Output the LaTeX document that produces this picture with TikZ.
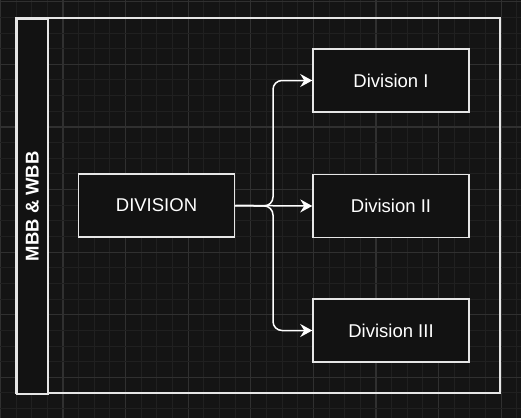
\documentclass[tikz,border=0pt]{standalone}
\usepackage{fontspec}
\setmainfont{Liberation Sans}
\usetikzlibrary{arrows.meta}
\definecolor{bgc}{HTML}{141414}
\definecolor{fillc}{HTML}{121212}
\definecolor{gridminor}{HTML}{202020}
\definecolor{gridmajor}{HTML}{303030}
\definecolor{strokec}{HTML}{E6E6E6}
\tikzset{
  divbox/.style={draw=strokec, line width=1.5pt, fill=fillc, minimum width=156pt, minimum height=63pt, inner sep=0pt, text=white, font=\fontsize{18.5}{22}\selectfont},
  conn/.style={draw=white, line width=1.5pt, -{Stealth[length=12pt,width=13pt,inset=4pt]}},
}
\begin{document}
\begin{tikzpicture}[x=1pt,y=-1pt]
\useasboundingbox (0,0) rectangle (521,418);
\fill[bgc] (0,0) rectangle (521,418);
% grid
\foreach \k in {0,...,33}{
  \pgfmathsetmacro{\gx}{0.4+\k*15.65}
  \pgfmathtruncatemacro{\m}{mod(\k,4)}
  \ifnum\m=0
    \draw[gridmajor, line width=1.2pt] (\gx,0) -- (\gx,418);
  \else
    \draw[gridminor, line width=1pt] (\gx,0) -- (\gx,418);
  \fi
}
\foreach \k in {0,...,26}{
  \pgfmathsetmacro{\gy}{1.7+\k*15.65}
  \pgfmathtruncatemacro{\m}{mod(\k,4)}
  \ifnum\m=0
    \draw[gridmajor, line width=1.2pt] (0,\gy) -- (521,\gy);
  \else
    \draw[gridminor, line width=1pt] (0,\gy) -- (521,\gy);
  \fi
}
% container
\draw[strokec, line width=1.5pt] (16,18) rectangle (500,393);
\node[draw=strokec, line width=1.5pt, fill=fillc, minimum width=31pt, minimum height=375pt, inner sep=0pt, anchor=north west] (hdr) at (16,18) {};
\node[rotate=90, text=white, font=\bfseries\fontsize{18.5}{22}\selectfont] (hdrtext) at (hdr.center) {MBB \& WBB};
% boxes
\node[divbox] (div) at (156.5,205.5) {DIVISION};
\node[divbox] (d1) at (391,80.5) {Division I};
\node[divbox] (d2) at (391,206) {Division II};
\node[divbox] (d3) at (391,330.5) {Division III};
\coordinate (j) at (273,206);
% connectors
\draw[conn, rounded corners=9pt] (div.east) -- (j) |- (d1.west);
\draw[conn] (div.east) -- (d2.west);
\draw[conn, rounded corners=9pt] (div.east) -- (j) |- (d3.west);
\end{tikzpicture}
\end{document}
